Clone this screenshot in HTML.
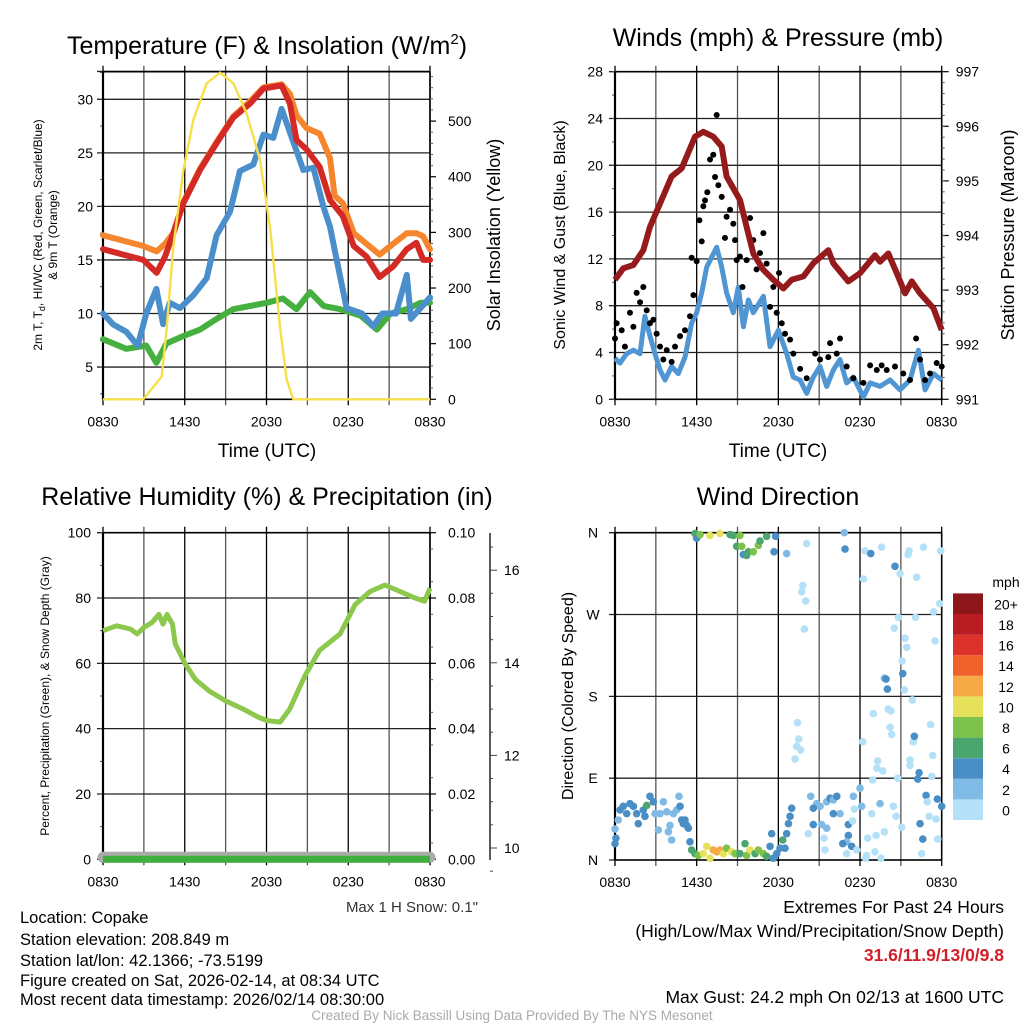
<!DOCTYPE html>
<html><head><meta charset="utf-8"><style>
html,body{margin:0;padding:0;background:#fff;}
svg{display:block;font-family:"Liberation Sans",sans-serif;}
</style></head><body>
<svg id="fig" width="1024" height="1024" viewBox="0 0 1024 1024" xmlns="http://www.w3.org/2000/svg">
<rect x="0" y="0" width="1024" height="1024" fill="#fff"/>
<g id="p1"></g>
<g id="p2"></g>
<g id="p3"></g>
<g id="p4"></g>

<text x="267" y="54" font-size="25" text-anchor="middle">Temperature (F) &amp; Insolation (W/m<tspan font-size="15" dy="-10">2</tspan><tspan dy="10">)</tspan></text>
<text x="778" y="46" font-size="25" text-anchor="middle">Winds (mph) &amp; Pressure (mb)</text>
<text x="267" y="505" font-size="25" text-anchor="middle">Relative Humidity (%) &amp; Precipitation (in)</text>
<text x="778" y="505" font-size="25" text-anchor="middle">Wind Direction</text>

<text transform="translate(42,235) rotate(-90)" font-size="12" text-anchor="middle">2m T, T<tspan font-size="9" dy="3">d</tspan><tspan dy="-3">, HI/WC (Red, Green, Scarlet/Blue)</tspan></text>
<text transform="translate(57,235) rotate(-90)" font-size="12" text-anchor="middle">&amp; 9m T (Orange)</text>
<text transform="translate(500,235) rotate(-90)" font-size="18" text-anchor="middle">Solar Insolation (Yellow)</text>
<text transform="translate(565,235) rotate(-90)" font-size="16" text-anchor="middle">Sonic Wind &amp; Gust (Blue, Black)</text>
<text transform="translate(1014,235) rotate(-90)" font-size="18" text-anchor="middle">Station Pressure (Maroon)</text>
<text transform="translate(49,696) rotate(-90)" font-size="12" text-anchor="middle">Percent, Precipitation (Green), &amp; Snow Depth (Gray)</text>
<text transform="translate(573,696) rotate(-90)" font-size="16" text-anchor="middle">Direction (Colored By Speed)</text>

<text x="267" y="457" font-size="19" text-anchor="middle">Time (UTC)</text>
<text x="778" y="457" font-size="19" text-anchor="middle">Time (UTC)</text>

<text x="478" y="912" font-size="15" fill="#333" text-anchor="end">Max 1 H Snow: 0.1"</text>

<g font-size="16.5">
<text x="20" y="923">Location: Copake</text>
<text x="20" y="945">Station elevation: 208.849 m</text>
<text x="20" y="966">Station lat/lon: 42.1366; -73.5199</text>
<text x="20" y="986">Figure created on Sat, 2026-02-14, at 08:34 UTC</text>
<text x="20" y="1005">Most recent data timestamp: 2026/02/14 08:30:00</text>
</g>
<g font-size="17.5" text-anchor="end">
<text x="1004" y="913">Extremes For Past 24 Hours</text>
<text x="1004" y="937">(High/Low/Max Wind/Precipitation/Snow Depth)</text>
<text x="1004" y="961" fill="#d0202a" font-weight="bold">31.6/11.9/13/0/9.8</text>
<text x="1004" y="1003">Max Gust: 24.2 mph On 02/13 at 1600 UTC</text>
</g>
<text x="512" y="1020" font-size="13.5" fill="#aaa" text-anchor="middle">Created By Nick Bassill Using Data Provided By The NYS Mesonet</text>
</svg>
<script>
// ---------- Panel 1 data ----------
const tRed = [0,2.96,3.94,4.55,5.16,5.9,7.12,8.34,9.56,10.79,11.77,13.1,13.72,14.2,14.95,15.9,16.66,17.6,18.4,19.35,20.3,21.3,22.3,23.0,23.5,24];
const redT = [16,15,13.8,15.3,17.5,20.3,23.4,25.9,28.3,29.6,31,31.3,29.6,26.2,25.3,23.7,20.6,19.1,16.3,15.3,13.4,14.4,16,16.6,15,15];
const tOrange = [0,2.96,3.94,4.55,5.16,5.9,7.12,8.34,9.56,10.79,11.77,13.1,13.72,14.2,14.95,15.9,16.66,17.0,17.6,18.4,19.35,20.3,21.3,22.3,23.0,23.5,24];
const orangeT = [17.3,16.3,15.8,16.5,17.5,20.4,23.5,26,28.4,29.8,31.1,31.4,30.5,28.5,27.3,26.8,24.5,21,20.3,17.5,16.5,15.5,16.5,17.5,17.5,17.2,16];
const tBlue = [0,0.73,1.7,2.55,3.18,3.92,4.41,4.9,5.65,6.63,7.61,8.34,9.32,10.05,11.03,11.77,12.5,13.11,14.7,15.44,16.17,16.66,17.15,17.88,19.0,19.84,20.5,21.5,22.3,22.6,23.3,24];
const blueT = [10,9,8.3,7,10,12.3,9,11,10.5,11.7,13.3,17.3,19.5,23.3,23.9,26.7,26.4,29.1,23.4,23.6,20,18.1,15,10.5,10,8.8,10,10,13.6,9.5,10.5,11.5];
const tGreen = [0,1.7,3.18,3.92,4.65,5.9,7.12,8.34,9.56,10.79,12.0,13.2,14.2,15.2,16.2,17.4,18.9,20.1,21.1,22.3,23.3,24];
const greenT = [7.6,6.7,7,5.4,7.2,7.9,8.5,9.5,10.4,10.7,11,11.4,10.4,12,10.7,10.4,9.8,8.5,10,10.4,11,11];
const tSun = [0,2.96,4.31,4.68,5.16,5.9,6.63,7.61,8.59,9.56,10.54,11.52,12.26,12.99,13.48,13.97,24];
const sunW = [0,0,41,130,274,412,502,568,587,568,514,430,310,130,35,0,0];
const tempTicks = [5,10,15,20,25,30];
const sunTicks = [0,100,200,300,400,500];
const timeLabels = ["0830","1430","2030","0230","0830"];

// ---------- Panel 2 data ----------
const tPres = [0,0.61,1.35,2.08,2.57,3.31,4.16,4.9,5.88,6.49,7.22,7.84,8.2,9.18,9.67,10.16,10.9,11.63,12.37,12.98,13.84,14.57,15.67,16.04,17.14,18.0,19.1,19.47,20.08,20.7,21.31,21.8,22.41,23.39,24];
const presMb = [993.19,993.4,993.46,993.73,994.16,994.59,995.08,995.23,995.81,995.9,995.81,995.63,995.08,994.65,994.16,993.67,993.37,993.19,993.03,993.19,993.25,993.49,993.73,993.49,993.16,993.31,993.64,993.52,993.67,993.31,992.94,993.16,992.94,992.67,992.27];
const tWind = [0,0.37,0.86,1.35,1.84,2.2,2.57,2.94,3.31,3.67,4.16,4.65,5.14,5.63,6.0,6.37,6.74,7.47,7.84,8.2,8.69,9.06,9.43,9.8,10.16,10.9,11.39,12,12.61,13.1,13.6,14.08,14.57,15.06,15.55,16.04,16.53,17.02,17.51,18.25,18.74,19.47,20.21,20.94,21.67,22.29,22.78,23.39,24];
const windMph = [3.5,3.1,3.9,4.2,3.9,7.1,5.4,3.9,2.5,1.65,2.8,2.2,3.6,6.5,7.4,9.1,11.3,13,11.3,9.1,7.4,9.6,6.2,8.5,7.4,8.8,4.5,5.9,3.9,1.9,1.65,0.5,1.9,2.8,1.1,2.5,3.4,1.4,1.9,0.2,1.4,1.1,1.65,0.8,1.65,4.2,0.8,2.2,1.65];
const tGust = [0,0.12,0.49,0.73,1.1,1.35,1.59,1.84,2.08,2.33,2.57,2.82,3.06,3.31,3.55,3.8,4.16,4.41,4.78,5.14,5.51,5.63,5.76,6.0,6.2,6.37,6.49,6.61,6.78,6.98,7.22,7.35,7.47,7.59,7.84,8.08,8.2,8.45,8.69,8.82,8.94,9.18,9.37,9.67,9.92,10.16,10.4,10.65,10.9,11.14,11.39,11.63,11.88,12.05,12.25,12.49,12.86,13.1,13.6,14.08,14.7,15.06,15.67,15.8,16.29,16.53,17.02,17.51,18.25,18.74,19.23,19.59,19.96,20.57,21.18,21.67,22.12,22.41,22.78,23.14,23.63,24];
const gustMph = [5.2,6.5,5.9,4.5,7.4,6.2,9.1,8.3,9.6,7.6,6.5,6.8,5.6,4.5,3.4,4.2,3.2,4.5,5.4,5.9,7.1,12.1,8.9,11.8,15.3,13.5,16.5,17,17.7,20.5,20.9,19,24.3,18.3,17.3,13.8,15.6,16.2,15,13.6,11.9,12.2,9.6,11.9,15.5,13.6,11.1,12.5,14.2,11.6,7.9,9.6,7.4,10.8,6.5,5.6,5.1,3.9,2.6,1.8,3.9,3.4,3.6,4.8,3.9,5.2,2.8,1.8,1.4,2.9,2.5,2.9,2.5,2.8,2.2,1.65,5.2,3.4,1.65,2.2,3.1,2.8];
const windTicks = [0,4,8,12,16,20,24,28];
const presTicks = [991,992,993,994,995,996,997];

// ---------- Panel 3 data ----------
const tRH = [0,1,2,2.5,3,3.6,4.1,4.4,4.7,5.1,5.3,6,6.8,7.8,9,10.3,11.4,12,13,13.7,14.8,15.9,17.4,18.5,19.6,20.7,21.8,22.9,23.6,24];
const rhPct = [70,71.5,70.5,69,71,72.5,75,72,75,72,66,60,55,51.5,48.5,46,43.5,42.5,42,46,56,64,69,78,82,84,82,80,79,83];
const tPrecip = [0,24];
const precipIn = [0,0];
const tSnow = [0,24];
const snowIn = [9.8,9.8];
const rhTicks = [0,20,40,60,80,100];
const precipTicks = ["0.00","0.02","0.04","0.06","0.08","0.10"];
const snowTicks = [10,12,14,16];

// ---------- Panel 4 data ----------
const tDir = [0,0.07,0,0.24,0.37,0.61,0.86,1.1,1.35,1.59,1.71,2.08,2.2,2.33,2.57,2.82,2.94,3.18,3.31,3.55,3.8,3.92,4.04,4.16,4.29,4.53,4.7,4.78,4.9,5.02,5.14,5.27,5.39,5.51,5.63,
 5.88,6.12,6.49,6.74,6.98,7.22,7.47,7.71,7.96,8.2,8.57,8.82,9.18,9.55,9.67,9.92,10.29,10.53,10.9,11.14,11.39,11.51,11.63,11.88,12.12,12.32,12.49,12.61,12.74,12.86,12.98,
 5.88,6.0,6.25,6.98,7.71,8.45,8.69,8.94,9.18,9.31,9.43,9.67,9.8,10.16,10.53,10.65,11.14,11.8,11.68,12.61,
 14.08,13.79,13.72,14.01,13.91,13.4,13.5,13.35,13.64,13.23,14.38,14.82,15.06,15.55,15.8,16.04,16.29,16.53,16.04,14.57,15.18,14.57,15.55,14.2,15.36,15.43,17.14,17.46,17.14,17.02,16.73,17.39,17.02,17.76,17.51,18.0,18.12,17.58,18.86,18.56,18.42,18.49,19.1,19.54,19.18,18.93,19.3,19.23,19.67,18.2,18.98,19.47,19.79,20.65,20.45,20.77,21.06,21.67,21.67,21.92,21.99,20.33,20.21,20.08,20.28,19.79,19.91,20.01,21.26,21.14,21.09,21.43,21.31,20.52,20.82,22.07,21.85,22.34,22.24,23.19,23.34,23.27,22.85,22.95,23.68,24,23.59,23.07,23.71,22.61,22.41,22.53,23.51,23.41,23.85,18.25,20.57,20.94,22.16,16.9,16.85,18.37,18.79,19.59,21.53,21.6,22.66,23.93];
const dirDeg = [18,24,34,44,55,59,51,62,59,51,40,55,48,60,70,64,51,33,51,64,53,31,38,22,51,55,70,59,44,40,44,38,35,20,11,
 7,5,7,15,2,11,9,11,7,13,9,7,7,18,5,11,7,11,7,4,15,29,2,7,13,22,13,29,40,48,57,
 359,354,358,357,359,358,357,345,357,345,336,335,339,339,346,351,356,356,339,337,
 348,302,295,285,254,151,133,125,121,111,70,62,59,64,68,66,70,51,51,57,39,39,35,29,24,11,39,43,27,20,18,15,7,11,70,79,59,56,51,24,2,5,9,2,27,88,109,101,98,130,161,62,31,48,59,90,36,110,104,130,136,138,146,166,164,200,199,188,187,205,219,234,244,255,267,267,176,96,89,149,115,92,71,64,67,59,45,48,23,23,40,7,241,273,282,309,323,315,311,342,360,340,337,344,336,340,344,340];
const dirSpd = [4,4,2,2,4,4,4,4,4,4,4,4,4,6,4,4,2,2,2,2,2,2,2,2,2,2,2,4,4,4,4,4,4,4,6,
 6,8,10,10,10,12,12,12,10,8,10,8,6,6,8,10,6,8,8,6,4,4,4,4,4,6,4,4,4,4,4,
 6,4,8,10,10,6,6,6,8,8,4,6,6,8,8,6,6,4,4,2,
 0,0,0,0,0,0,0,0,0,0,2,2,2,2,4,2,4,2,4,4,2,4,2,0,0,0,4,0,4,2,4,4,0,0,2,2,2,0,0,0,0,0,0,0,0,0,0,0,0,0,0,2,0,0,0,0,0,0,0,0,4,0,0,0,0,2,4,4,0,4,0,0,0,0,0,0,0,4,4,0,0,0,4,0,4,4,0,0,0,4,4,0,0,0,0,0,4,0,0,4,2,0,4,0,0,0,0,0];
const dirLabels = ["N","E","S","W","N"];
const speedBins = ["0","2","4","6","8","10","12","14","16","18","20+"];
const speedColors = ["#b4e1f7","#7fbbe5","#4a8ec6","#4aa66e","#7cc24b","#e6e15a","#f6aa45","#ef612a","#db322b","#ba1c24","#8c1619"];

const NS="http://www.w3.org/2000/svg";
function mk(parent,tag,attrs){const e=document.createElementNS(NS,tag);for(const k in attrs)e.setAttribute(k,attrs[k]);parent.appendChild(e);return e;}
function txt(parent,x,y,s,size,anchor){const e=mk(parent,'text',{x:x,y:y,'font-size':size,'text-anchor':anchor||'middle'});e.textContent=s;return e;}
function pathFrom(ts,vs,xf,yf){let d='';for(let i=0;i<ts.length;i++){d+=(i?'L':'M')+xf(ts[i]).toFixed(1)+','+yf(vs[i]).toFixed(1);}return d;}

function frame(g,x0,x1,y0,y1,hvals,yf,minorStep,vmin,vmax){
  for(let h=0;h<=24;h+=3){const x=x0+(x1-x0)*h/24;
    const l=mk(g,'line',{x1:x,x2:x,y1:y0-6,y2:y1+6,stroke:(h%6==0?'#000':'#555'),'stroke-width':1.3});
    
    }
  hvals.forEach(v=>{const y=yf(v);const l=mk(g,'line',{x1:x0-6,x2:x1,y1:y,y2:y,stroke:'#222','stroke-width':1.3});
    
    });
  if(minorStep){for(let v=vmin;v<=vmax+1e-9;v+=minorStep){const y=yf(v);mk(g,'line',{x1:x0-3,x2:x0,y1:y,y2:y,stroke:'#555','stroke-width':1});}}
  mk(g,'line',{x1:x0,x2:x1,y1:y0,y2:y0,stroke:'#000','stroke-width':1.6});
  mk(g,'line',{x1:x0,x2:x1,y1:y1,y2:y1,stroke:'#000','stroke-width':1.6});
  mk(g,'line',{x1:x0,x2:x0,y1:y0,y2:y1,stroke:'#000','stroke-width':2.2});
  mk(g,'line',{x1:x1,x2:x1,y1:y0,y2:y1,stroke:'#000','stroke-width':1.6});
  timeLabels.forEach((s,i)=>{const t=txt(g,x0+(x1-x0)*i/4,y1+27,s,14);
    
    });
}

// ---------- Panel 1 ----------
(function(){
  const g=document.getElementById('p1');
  const X0=103,X1=430,Y0=71.7,Y1=399.3;
  const xs=t=>X0+(X1-X0)*t/24;
  const ys=v=>99.3+(30-v)*10.71;
  const yr=w=>Y1-w*0.5564;
  frame(g,X0,X1,Y0,Y1,tempTicks.concat([32.6]),ys,2.5,2.5,32.5);
  tempTicks.forEach(v=>{const t=txt(g,X0-10,ys(v)+5,String(v),14,'end');
    
    });
  sunTicks.forEach(v=>{mk(g,'line',{x1:X1,x2:X1+6,y1:yr(v),y2:yr(v),stroke:'#000','stroke-width':1.2});
    const t=txt(g,X1+18,yr(v)+5,String(v),14,'start');
    
    });
  for(let v=20;v<=580;v+=20){if(v%100)mk(g,'line',{x1:X1,x2:X1+3,y1:yr(v),y2:yr(v),stroke:'#555','stroke-width':1});}
  const series=[[tGreen,greenT,'#45b03f','dewpoint-line'],[tBlue,blueT,'#4a8fcb','windchill-line'],[tOrange,orangeT,'#f5862e','temp-9m-line'],[tRed,redT,'#d42a26','temp-2m-line']];
  series.forEach(s=>{const p=mk(g,'path',{d:pathFrom(s[0],s[1],xs,ys),fill:'none',stroke:s[2],'stroke-width':6,'stroke-linejoin':'round','stroke-linecap':'round'});
    
    });
  const p=mk(g,'path',{d:pathFrom(tSun,sunW,xs,yr),fill:'none',stroke:'#f7df4a','stroke-width':2.4});
  
  
})();

// ---------- Panel 2 ----------
(function(){
  const g=document.getElementById('p2');
  const X0=615,X1=941.7,Y0=71.7,Y1=399.3;
  const xs=t=>X0+(X1-X0)*t/24;
  const ys=v=>Y1-v*(Y1-Y0)/28;
  const yp=v=>Y1-(v-991)*(Y1-Y0)/6;
  frame(g,X0,X1,Y0,Y1,windTicks,ys,2,0,28);
  windTicks.forEach(v=>{const t=txt(g,X0-12,ys(v)+5,String(v),14,'end');
    
    });
  presTicks.forEach(v=>{mk(g,'line',{x1:X1,x2:X1+7,y1:yp(v),y2:yp(v),stroke:'#000','stroke-width':1.2});
    const t=txt(g,X1+14,yp(v)+5,String(v),14,'start');
    
    });
  for(let v=991.2;v<997;v+=0.2){mk(g,'line',{x1:X1,x2:X1+3,y1:yp(v),y2:yp(v),stroke:'#555','stroke-width':1});}
  const w=mk(g,'path',{d:pathFrom(tWind,windMph,xs,ys),fill:'none',stroke:'#4f96d2','stroke-width':5,'stroke-linejoin':'round'});
  
  
  tGust.forEach((t,i)=>{const c=mk(g,'circle',{cx:xs(t),cy:ys(gustMph[i]),r:3,fill:'#000'});
    
    });
  const p=mk(g,'path',{d:pathFrom(tPres,presMb,xs,yp),fill:'none',stroke:'#951a1c','stroke-width':6,'stroke-linejoin':'round'});
  
  
})();

// ---------- Panel 3 ----------
(function(){
  const g=document.getElementById('p3');
  const X0=103,X1=430,Y0=532.7,Y1=859.3;
  const xs=t=>X0+(X1-X0)*t/24;
  const ys=v=>Y1-v*(Y1-Y0)/100;
  const yq=v=>Y1-v*(Y1-Y0)/0.1;
  const yz=v=>848-(v-10)*46.3;
  frame(g,X0,X1,Y0,Y1,rhTicks,ys,10,0,100);
  rhTicks.forEach(v=>{const t=txt(g,X0-12,ys(v)+5,String(v),14,'end');
    
    });
  precipTicks.forEach((s,i)=>{const y=Y1-(Y1-Y0)*i/5;mk(g,'line',{x1:X1,x2:X1+6,y1:y,y2:y,stroke:'#000','stroke-width':1.2});
    const t=txt(g,X1+18,y+5,s,14,'start');
    
    });
  for(let i=1;i<20;i+=2){const y=Y1-(Y1-Y0)*i/20;mk(g,'line',{x1:X1,x2:X1+3,y1:y,y2:y,stroke:'#555','stroke-width':1});}
  const ax=mk(g,'line',{x1:490,x2:490,y1:533,y2:860,stroke:'#000','stroke-width':1.3});
  
  
  for(let v=9.5;v<=16.6;v+=0.5){const major=Math.abs(v-Math.round(v/2)*2)<1e-6;mk(g,'line',{x1:490,x2:490+(major?7:3),y1:yz(v),y2:yz(v),stroke:'#444','stroke-width':1});}
  snowTicks.forEach(v=>{const t=txt(g,504,yz(v)+5,String(v),14,'start');
    
    });
  const s=mk(g,'path',{d:pathFrom(tSnow,snowIn,xs,yz),fill:'none',stroke:'#aaaaaa','stroke-width':11,'stroke-linecap':'round'});
  
  
  const q=mk(g,'path',{d:pathFrom(tPrecip,precipIn,xs,yq),fill:'none',stroke:'#3fb03c','stroke-width':7});
  
  
  const r=mk(g,'path',{d:pathFrom(tRH,rhPct,xs,ys),fill:'none',stroke:'#8cc84b','stroke-width':5,'stroke-linejoin':'round'});
  
  
})();

// ---------- Panel 4 ----------
(function(){
  const g=document.getElementById('p4');
  const X0=615,X1=941.7,Y0=532.7,Y1=860;
  const xs=t=>X0+(X1-X0)*t/24;
  const ys=d=>Y1-d*(Y1-Y0)/360;
  frame(g,X0,X1,Y0,Y1,[0,90,180,270,360],ys,0,0,0);
  dirLabels.forEach((s,i)=>{const t=txt(g,X0-22,ys(i*90)+5,s,14,'middle');
    
    });
  tDir.forEach((t,i)=>{const b=Math.min(10,Math.floor(dirSpd[i]/2));
    const c=mk(g,'circle',{cx:xs(t),cy:ys(dirDeg[i]),r:3.8,fill:speedColors[b]});
    
    });
  const lg=mk(g,'g',{});
  
  
  txt(lg,1006,587,'mph',14,'middle');
  speedBins.forEach((s,i)=>{const y=820-(i+1)*20.6;
    const r=mk(lg,'rect',{x:953,y:y,width:30,height:20.6,fill:speedColors[i]});
    
    
    const t=txt(lg,1006,y+16,s,14,'middle');
    
    });
})();
</script>
</body></html>
